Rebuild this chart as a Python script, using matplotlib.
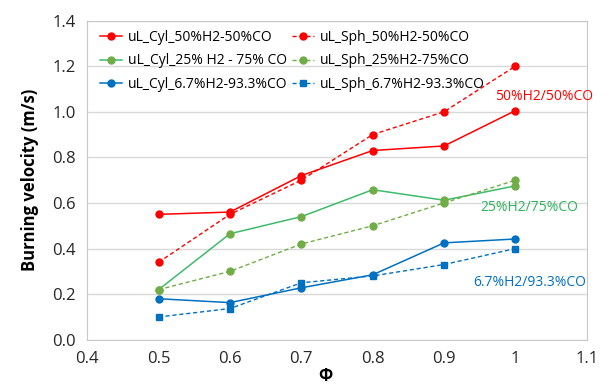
import matplotlib.pyplot as plt

plt.rcParams['font.family'] = ['Open Sans', 'DejaVu Sans']

# equivalence ratio
phi = [0.5, 0.6, 0.7, 0.8, 0.9, 1.0]

# burning velocities (m/s)
cyl_50 = [0.55, 0.56, 0.72, 0.83, 0.85, 1.005]
sph_50 = [0.34, 0.55, 0.70, 0.90, 1.00, 1.20]
cyl_25 = [0.22, 0.465, 0.54, 0.658, 0.612, 0.675]
sph_25 = [0.22, 0.30, 0.42, 0.50, 0.60, 0.70]
cyl_67 = [0.18, 0.163, 0.228, 0.285, 0.425, 0.442]
sph_67 = [0.10, 0.137, 0.25, 0.28, 0.33, 0.40]

red = '#FF0000'
green_c = '#3DBB6B'
green_s = '#70AD47'
blue = '#0070C0'

fig = plt.figure(figsize=(6.1, 3.87), dpi=100)
ax = fig.add_axes([0.143, 0.122, 0.819, 0.825])

ax.plot(phi, cyl_50, color=red, lw=1.1, marker='o', ms=5, label='uL_Cyl_50%H2-50%CO')
ax.plot(phi, sph_50, color=red, lw=1.0, ls='--', dashes=(3, 2), marker='o', ms=5, label='uL_Sph_50%H2-50%CO')
ax.plot(phi, cyl_25, color=green_c, lw=1.1, marker='o', ms=5, mfc=green_s, mec=green_s, label='uL_Cyl_25% H2 - 75% CO')
ax.plot(phi, sph_25, color=green_s, lw=1.0, ls='--', dashes=(3, 2), marker='o', ms=5, label='uL_Sph_25%H2-75%CO')
ax.plot(phi, cyl_67, color=blue, lw=1.1, marker='o', ms=5, label='uL_Cyl_6.7%H2-93.3%CO')
ax.plot(phi, sph_67, color=blue, lw=1.0, ls='--', dashes=(3, 2), marker='s', ms=5, label='uL_Sph_6.7%H2-93.3%CO')

ax.set_xlim(0.4, 1.1)
ax.set_ylim(0.0, 1.4)
ax.set_xticks([0.4, 0.5, 0.6, 0.7, 0.8, 0.9, 1.0, 1.1])
ax.set_xticklabels(['0.4', '0.5', '0.6', '0.7', '0.8', '0.9', '1', '1.1'])
ax.set_yticks([0.0, 0.2, 0.4, 0.6, 0.8, 1.0, 1.2, 1.4])
ax.set_yticklabels(['0.0', '0.2', '0.4', '0.6', '0.8', '1.0', '1.2', '1.4'])
ax.tick_params(length=0, labelsize=12, colors='#262626', pad=8)

ax.grid(axis='y', color='#D9D9D9', lw=1)
ax.set_axisbelow(True)
for s in ax.spines.values():
    s.set_color('#C8C8C8')

ax.set_xlabel('Φ', fontsize=12, fontweight='bold')
ax.xaxis.set_label_coords(0.476, -0.085)
ax.set_ylabel('Burning velocity (m/s)', fontsize=12, fontweight='bold')
ax.yaxis.set_label_coords(-0.097, 0.5)

ax.text(1.04, 1.065, '50%H2/50%CO', color=red, fontsize=10, ha='center', va='center')
ax.text(1.02, 0.58, '25%H2/75%CO', color='#2DB35B', fontsize=10, ha='center', va='center')
ax.text(1.02, 0.25, '6.7%H2/93.3%CO', color=blue, fontsize=10, ha='center', va='center')

h, l = ax.get_legend_handles_labels()
order = [0, 2, 4, 1, 3, 5]
ax.legend([h[i] for i in order], [l[i] for i in order], ncol=2, loc='upper left',
          bbox_to_anchor=(0.0, 1.01), frameon=False, fontsize=10, handlelength=1.6,
          handletextpad=0.4, columnspacing=0.35, labelspacing=0.62)

fig.savefig('out.png', dpi=100)
